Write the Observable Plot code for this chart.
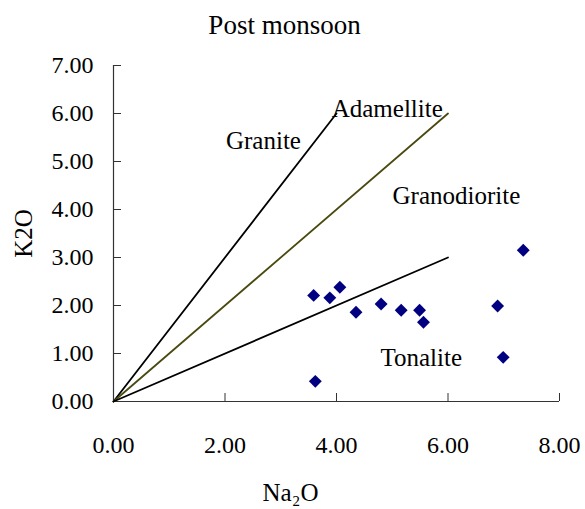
<!DOCTYPE html>
<html>
<head>
<meta charset="utf-8">
<script src="https://cdn.jsdelivr.net/npm/d3@7"></script>
<script src="https://cdn.jsdelivr.net/npm/@observablehq/plot@0.6"></script>
<style>
  html, body { margin: 0; padding: 0; background: #fff; }
  svg text { font-family: "Liberation Serif", "Times New Roman", serif; }
</style>
</head>
<body>
<div id="chart"></div>
<script>
// Sample values (Na2O, K2O)
const na2o = [3.59, 3.62, 3.88, 4.06, 4.35, 4.80, 5.16, 5.49, 5.56, 6.89, 6.99, 7.35];
const k2o  = [2.21, 0.42, 2.16, 2.38, 1.86, 2.03, 1.90, 1.90, 1.65, 1.99, 0.92, 3.15];

// Field boundary lines (Na2O, K2O endpoints)
const graniteLine    = [[0, 0], [4, 6]];
const adamelliteLine = [[0, 0], [6, 6]];
const tonaliteLine   = [[0, 0], [6, 3]];

// Field labels
const fieldNames = ["Granite", "Adamellite", "Granodiorite", "Tonalite"];
const fieldX     = [2.69, 4.91, 6.15, 5.52];
const fieldY     = [5.27, 5.92, 4.12, 0.75];

// Ticks
const xTicks = [0, 2, 4, 6, 8];
const yTicks = [0, 1, 2, 3, 4, 5, 6, 7];

const title = "Post monsoon";
const xLabel = "Na\u2082O";
const yLabel = "K2O";

const points = na2o.map((x, i) => ({x, y: k2o[i]}));
const fields = fieldNames.map((name, i) => ({name, x: fieldX[i], y: fieldY[i]}));

const W = 585, H = 509;
const mL = 113, mR = 26, mT = 65, mB = 108;
const frameW = W - mL - mR, frameH = H - mT - mB;
const serif = "Liberation Serif";

const chart = Plot.plot({
  width: W,
  height: H,
  marginLeft: mL,
  marginRight: mR,
  marginTop: mT,
  marginBottom: mB,
  style: {fontFamily: serif, fontSize: "24px", background: "#fff", color: "#000"},
  x: {domain: [0, 8]},
  y: {domain: [0, 7]},
  marks: [
    Plot.axisX(xTicks, {tickSize: 0, tickPadding: 34, tickFormat: d3.format(".2f"), label: null, fontSize: 24, fontFamily: serif, fontVariant: "normal"}),
    Plot.axisY(yTicks, {tickSize: 0, tickPadding: 20, tickFormat: d3.format(".2f"), label: null, fontSize: 24, fontFamily: serif, fontVariant: "normal"}),
    Plot.tickX(xTicks, {x: d => d, insetTop: frameH - 8, stroke: "#333", strokeWidth: 1}),
    Plot.tickY(yTicks, {y: d => d, insetRight: frameW - 8, stroke: "#333", strokeWidth: 1}),
    Plot.ruleY([0], {stroke: "#333", strokeWidth: 1.2}),
    Plot.ruleX([0], {stroke: "#333", strokeWidth: 1.2}),
    Plot.line(graniteLine, {x: d => d[0], y: d => d[1], stroke: "#000", strokeWidth: 1.8}),
    Plot.line(adamelliteLine, {x: d => d[0], y: d => d[1], stroke: "#4a4a10", strokeWidth: 1.8}),
    Plot.line(tonaliteLine, {x: d => d[0], y: d => d[1], stroke: "#000", strokeWidth: 1.8}),
    Plot.dot(points, {x: "x", y: "y", symbol: "diamond2", r: 5.8, fill: "#000080", stroke: "none"}),
    Plot.text(fields, {x: "x", y: "y", text: "name", textAnchor: "middle", lineAnchor: "bottom", fontSize: 25, fontFamily: serif, fill: "#000"}),
    Plot.text([title], {frameAnchor: "top", dx: -52, dy: -32, lineAnchor: "bottom", fontSize: 27, fontFamily: serif, fill: "#000"}),
    Plot.text([xLabel], {frameAnchor: "bottom", dx: -46, dy: 99, lineAnchor: "bottom", fontSize: 25, fontFamily: serif, fill: "#000"}),
    Plot.text([yLabel], {frameAnchor: "left", dx: -90, rotate: -90, textAnchor: "middle", lineAnchor: "middle", fontSize: 25, fontFamily: serif, fill: "#000"})
  ]
});

document.getElementById("chart").appendChild(chart);
</script>
</body>
</html>
